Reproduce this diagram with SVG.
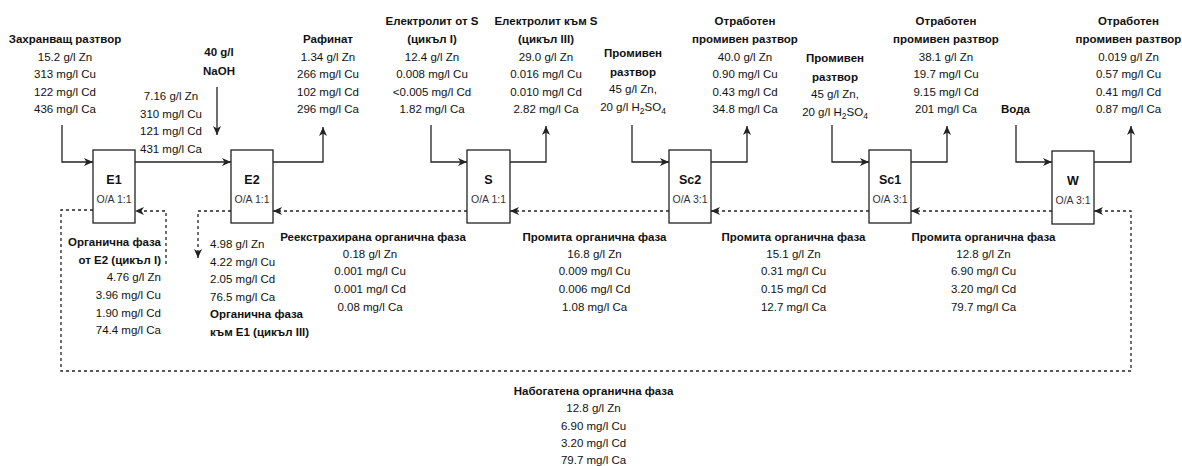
<svg xmlns="http://www.w3.org/2000/svg" width="1182" height="466" viewBox="0 0 1182 466">
<defs>
<style>
.t{font-family:"Liberation Sans",Arial,Helvetica,sans-serif;font-size:11.5px;fill:#111;text-anchor:middle}
.b{font-weight:bold}
.l{text-anchor:start}
.r{text-anchor:end}
.bx{fill:#fff;stroke:#222;stroke-width:1.3}
.bn{font-family:"Liberation Sans",Arial,Helvetica,sans-serif;font-size:12.5px;font-weight:bold;fill:#111;text-anchor:middle}
.oa{font-family:"Liberation Sans",Arial,Helvetica,sans-serif;font-size:10.5px;fill:#333;text-anchor:middle}
.ln{fill:none;stroke:#222;stroke-width:1.3;marker-end:url(#ah)}
.ds{stroke-dasharray:3 3}
.sub{font-size:8.5px}
</style>
<marker id="ah" viewBox="0 0 9 8" refX="9" refY="4" markerWidth="9" markerHeight="8" markerUnits="userSpaceOnUse" orient="auto">
<path d="M0,0 L9,4 L0,8 L2.5,4 z" fill="#222"/>
</marker>
</defs>
<rect width="1182" height="466" fill="#fff"/>

<g id="connectors">
<path class="ln" d="M62,125 V162 H93"/>
<path class="ln" d="M135,162 H231"/>
<path class="ln" d="M217,87 V135"/>
<path class="ln" d="M273,162 H323 V127"/>
<path class="ln" d="M431,125 V162 H467"/>
<path class="ln" d="M510,162 H546 V126"/>
<path class="ln" d="M632,125 V162 H669"/>
<path class="ln" d="M711,162 H747 V126"/>
<path class="ln" d="M832,125 V162 H869"/>
<path class="ln" d="M911,162 H947 V126"/>
<path class="ln" d="M1016,125 V162 H1052"/>
<path class="ln" d="M1094,162 H1131 V126"/>
<path class="ln ds" d="M93,210 H61 V371 H1131 V211 H1094"/>
<path class="ln ds" d="M1052,211 H911"/>
<path class="ln ds" d="M869,211 H711"/>
<path class="ln ds" d="M669,211 H510"/>
<path class="ln ds" d="M467,211 H273"/>
<path class="ln ds" d="M231,211 H198 V258"/>
<path class="ln ds" d="M166,264 V211 H135"/>
</g>

<g id="E1">
<rect class="bx" x="93" y="150" width="42" height="73"/>
<text class="bn" x="114" y="184">E1</text>
<text class="oa" x="114" y="203">O/A 1:1</text>
</g>
<g id="E2">
<rect class="bx" x="231" y="150" width="42" height="73"/>
<text class="bn" x="252" y="184">E2</text>
<text class="oa" x="252" y="203">O/A 1:1</text>
</g>
<g id="S">
<rect class="bx" x="467" y="150" width="43" height="73"/>
<text class="bn" x="488.5" y="184">S</text>
<text class="oa" x="488.5" y="203">O/A 1:1</text>
</g>
<g id="Sc2">
<rect class="bx" x="669" y="150" width="42" height="73"/>
<text class="bn" x="690" y="184">Sc2</text>
<text class="oa" x="690" y="203">O/A 3:1</text>
</g>
<g id="Sc1">
<rect class="bx" x="869" y="150" width="42" height="73"/>
<text class="bn" x="890" y="184">Sc1</text>
<text class="oa" x="890" y="203">O/A 3:1</text>
</g>
<g id="W">
<rect class="bx" x="1052" y="151" width="42" height="73"/>
<text class="bn" x="1073" y="185">W</text>
<text class="oa" x="1073" y="204">O/A 3:1</text>
</g>

<g id="feed">
<text class="t b" x="65" y="43">Захранващ разтвор</text>
<text class="t" x="65" y="60.5">15.2 g/l Zn</text>
<text class="t" x="65" y="78">313 mg/l Cu</text>
<text class="t" x="65" y="95.5">122 mg/l Cd</text>
<text class="t" x="65" y="113">436 mg/l Ca</text>
</g>
<g id="naoh">
<text class="t b" x="219" y="56">40 g/l</text>
<text class="t b" x="219" y="75">NaOH</text>
</g>
<g id="aq-e1-e2">
<text class="t" x="171" y="100">7.16 g/l Zn</text>
<text class="t" x="171" y="117.5">310 mg/l Cu</text>
<text class="t" x="171" y="135">121 mg/l Cd</text>
<text class="t" x="171" y="152.5">431 mg/l Ca</text>
</g>
<g id="raffinate">
<text class="t b" x="328" y="43">Рафинат</text>
<text class="t" x="328" y="60.5">1.34 g/l Zn</text>
<text class="t" x="328" y="78">266 mg/l Cu</text>
<text class="t" x="328" y="95.5">102 mg/l Cd</text>
<text class="t" x="328" y="113">296 mg/l Ca</text>
</g>
<g id="el-from-s">
<text class="t b" x="432" y="25">Електролит от S</text>
<text class="t b" x="432" y="43">(цикъл I)</text>
<text class="t" x="432" y="60.5">12.4 g/l Zn</text>
<text class="t" x="432" y="78">0.008 mg/l Cu</text>
<text class="t" x="432" y="95.5">&lt;0.005 mg/l Cd</text>
<text class="t" x="432" y="113">1.82 mg/l Ca</text>
</g>
<g id="el-to-s">
<text class="t b" x="546" y="25">Електролит към S</text>
<text class="t b" x="546" y="43">(цикъл III)</text>
<text class="t" x="546" y="60.5">29.0 g/l Zn</text>
<text class="t" x="546" y="78">0.016 mg/l Cu</text>
<text class="t" x="546" y="95.5">0.010 mg/l Cd</text>
<text class="t" x="546" y="113">2.82 mg/l Ca</text>
</g>
<g id="wash1">
<text class="t b" x="633" y="57">Промивен</text>
<text class="t b" x="633" y="75.5">разтвор</text>
<text class="t" x="633" y="93">45 g/l Zn,</text>
<text class="t" x="633" y="111">20 g/l H<tspan class="sub" dy="3">2</tspan><tspan dy="-3">SO</tspan><tspan class="sub" dy="3">4</tspan></text>
</g>
<g id="spent1">
<text class="t b" x="745" y="25">Отработен</text>
<text class="t b" x="745" y="43">промивен разтвор</text>
<text class="t" x="745" y="60.5">40.0 g/l Zn</text>
<text class="t" x="745" y="78">0.90 mg/l Cu</text>
<text class="t" x="745" y="95.5">0.43 mg/l Cd</text>
<text class="t" x="745" y="113">34.8 mg/l Ca</text>
</g>
<g id="wash2">
<text class="t b" x="835" y="62">Промивен</text>
<text class="t b" x="835" y="80.5">разтвор</text>
<text class="t" x="835" y="98">45 g/l Zn,</text>
<text class="t" x="835" y="116">20 g/l H<tspan class="sub" dy="3">2</tspan><tspan dy="-3">SO</tspan><tspan class="sub" dy="3">4</tspan></text>
</g>
<g id="spent2">
<text class="t b" x="946" y="25">Отработен</text>
<text class="t b" x="946" y="43">промивен разтвор</text>
<text class="t" x="946" y="60.5">38.1 g/l Zn</text>
<text class="t" x="946" y="78">19.7 mg/l Cu</text>
<text class="t" x="946" y="95.5">9.15 mg/l Cd</text>
<text class="t" x="946" y="113">201 mg/l Ca</text>
</g>
<g id="water">
<text class="t b" x="1015.5" y="113">Вода</text>
</g>
<g id="spent3">
<text class="t b" x="1128.5" y="25">Отработен</text>
<text class="t b" x="1128.5" y="43">промивен разтвор</text>
<text class="t" x="1128.5" y="60.5">0.019 g/l Zn</text>
<text class="t" x="1128.5" y="78">0.57 mg/l Cu</text>
<text class="t" x="1128.5" y="95.5">0.41 mg/l Cd</text>
<text class="t" x="1128.5" y="113">0.87 mg/l Ca</text>
</g>

<g id="org-from-e2">
<text class="t b r" x="161" y="246">Органична фаза</text>
<text class="t b r" x="161" y="264">от E2 (цикъл I)</text>
<text class="t r" x="161" y="281">4.76 g/l Zn</text>
<text class="t r" x="161" y="299">3.96 mg/l Cu</text>
<text class="t r" x="161" y="316.5">1.90 mg/l Cd</text>
<text class="t r" x="161" y="334">74.4 mg/l Ca</text>
</g>
<g id="org-to-e1">
<text class="t l" x="210" y="248">4.98 g/l Zn</text>
<text class="t l" x="210" y="265.5">4.22 mg/l Cu</text>
<text class="t l" x="210" y="283">2.05 mg/l Cd</text>
<text class="t l" x="210" y="300.5">76.5 mg/l Ca</text>
<text class="t b l" x="210" y="318">Органична фаза</text>
<text class="t b l" x="210" y="335.5">към E1 (цикъл III)</text>
</g>
<g id="stripped-org">
<text class="t b" x="373" y="241">Реекстрахирана органична фаза</text>
<text class="t" x="370" y="257.5">0.18 g/l Zn</text>
<text class="t" x="370" y="275">0.001 mg/l Cu</text>
<text class="t" x="370" y="293">0.001 mg/l Cd</text>
<text class="t" x="370" y="310.5">0.08 mg/l Ca</text>
</g>
<g id="washed-org1">
<text class="t b" x="594.5" y="241">Промита органична фаза</text>
<text class="t" x="594.5" y="257.5">16.8 g/l Zn</text>
<text class="t" x="594.5" y="275">0.009 mg/l Cu</text>
<text class="t" x="594.5" y="293">0.006 mg/l Cd</text>
<text class="t" x="594.5" y="310.5">1.08 mg/l Ca</text>
</g>
<g id="washed-org2">
<text class="t b" x="793.5" y="241">Промита органична фаза</text>
<text class="t" x="793.5" y="257.5">15.1 g/l Zn</text>
<text class="t" x="793.5" y="275">0.31 mg/l Cu</text>
<text class="t" x="793.5" y="293">0.15 mg/l Cd</text>
<text class="t" x="793.5" y="310.5">12.7 mg/l Ca</text>
</g>
<g id="washed-org3">
<text class="t b" x="983.5" y="241">Промита органична фаза</text>
<text class="t" x="983.5" y="257.5">12.8 g/l Zn</text>
<text class="t" x="983.5" y="275">6.90 mg/l Cu</text>
<text class="t" x="983.5" y="293">3.20 mg/l Cd</text>
<text class="t" x="983.5" y="310.5">79.7 mg/l Ca</text>
</g>
<g id="loaded-org">
<text class="t b" x="593.5" y="395">Набогатена органична фаза</text>
<text class="t" x="593.5" y="412">12.8 g/l Zn</text>
<text class="t" x="593.5" y="429.5">6.90 mg/l Cu</text>
<text class="t" x="593.5" y="447">3.20 mg/l Cd</text>
<text class="t" x="593.5" y="464">79.7 mg/l Ca</text>
</g>
</svg>
